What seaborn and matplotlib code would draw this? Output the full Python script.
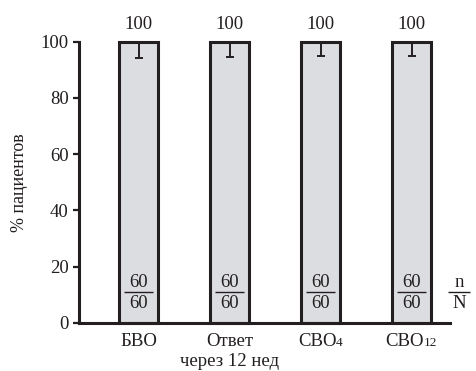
import matplotlib
matplotlib.use("Agg")
import matplotlib.pyplot as plt
import numpy as np
import pandas as pd
import seaborn as sns

# data
categories = ["БВО", "Ответ через 12 нед", "СВО4", "СВО12"]
label_main = ["БВО", "Ответ\nчерез 12 нед", "СВО", "СВО"]
label_sub = ["", "", "4", "12"]
percent = [100, 100, 100, 100]
err_low = [5.8, 5.4, 5.2, 5.2]
n_resp = [60, 60, 60, 60]
n_total = [60, 60, 60, 60]

ink = "#231f20"
fill = "#dcdde0"

sns.set_style("ticks")
plt.rcParams["font.family"] = ["Liberation Serif", "DejaVu Serif"]
plt.rcParams["text.color"] = ink
plt.rcParams["axes.labelcolor"] = ink
plt.rcParams["xtick.color"] = ink
plt.rcParams["ytick.color"] = ink

df = pd.DataFrame({"group": categories, "percent": percent})

fig, ax = plt.subplots(figsize=(4.76, 3.71), dpi=100)
fig.subplots_adjust(left=0.166, right=0.945, bottom=0.1294, top=0.888)

sns.barplot(data=df, x="group", y="percent", color=fill, saturation=1,
            edgecolor=ink, linewidth=2.2, width=0.42, errorbar=None, ax=ax)
for bar in ax.patches:
    bar.set_clip_on(False)

xs = np.arange(len(categories))
ax.errorbar(x=xs, y=percent, yerr=[err_low, [0] * len(xs)], fmt="none",
            ecolor=ink, elinewidth=1.4, capsize=3.2, capthick=1.4)

ax.bar_label(ax.containers[0], labels=[str(v) for v in percent],
             padding=6, fontsize=13.5, color=ink)

# n / N fractions inside the bars
for i in xs:
    ax.text(i, 12.8, str(n_resp[i]), ha="center", va="baseline", fontsize=13.5)
    ax.hlines(10.9, i - 0.155, i + 0.155, color=ink, lw=1)
    ax.text(i, 5.2, str(n_total[i]), ha="center", va="baseline", fontsize=13.5)

ax.text(3.52, 12.8, "n", ha="center", va="baseline", fontsize=13.5, clip_on=False)
ax.hlines(10.9, 3.40, 3.64, color=ink, lw=1, clip_on=False)
ax.text(3.52, 5.2, "N", ha="center", va="baseline", fontsize=13.5, clip_on=False)

ax.set_ylim(0, 100)
ax.set_xlim(-0.654, 3.42)
ax.set_yticks(np.arange(0, 101, 20))
ax.set_xlabel("")
ax.set_ylabel("% пациентов", fontsize=13, labelpad=9)
ax.tick_params(axis="y", length=4.5, width=1.6, direction="out", pad=3,
               labelsize=13.5)
ax.tick_params(axis="x", length=0, labelbottom=False)
sns.despine(ax=ax)
for side in ["left", "bottom"]:
    ax.spines[side].set_linewidth(2.2)
    ax.spines[side].set_color(ink)

# category labels, with small digits after СВО
mains, subs = [], []
for i in xs:
    t = ax.annotate(label_main[i], xy=(i, 0), xycoords=ax.get_xaxis_transform(),
                    xytext=(0, -10), textcoords="offset pixels",
                    ha="center", va="top", fontsize=13.5, linespacing=1.2,
                    annotation_clip=False)
    mains.append(t)
    s = None
    if label_sub[i]:
        s = ax.annotate(label_sub[i], xy=(1, 0), xycoords=t,
                        xytext=(-0.5, 1), textcoords="offset pixels",
                        ha="left", va="bottom", fontsize=9.5)
    subs.append(s)

fig.canvas.draw()
for t, s in zip(mains, subs):
    if s is not None:
        w = s.get_window_extent().width
        t.xyann = (-w / 2, -10)

fig.savefig("out.png", dpi=100)
